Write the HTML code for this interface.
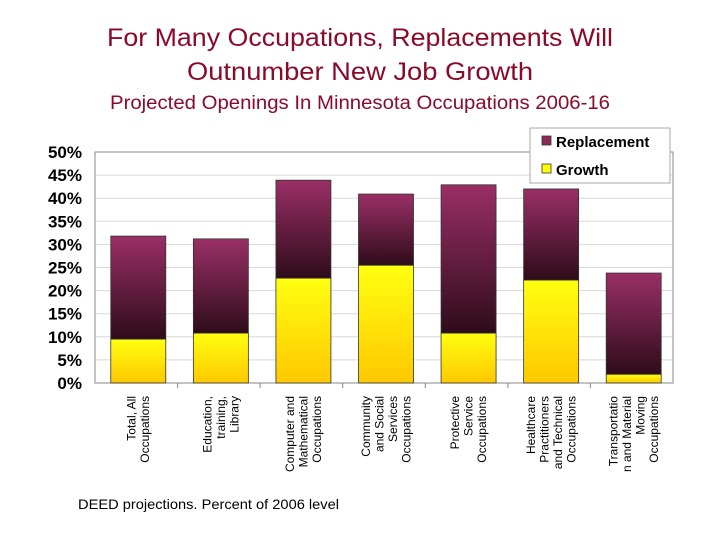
<!DOCTYPE html>
<html><head><meta charset="utf-8"><style>
body{margin:0;background:#fff;width:720px;height:540px;overflow:hidden}
</style></head><body>
<svg id="c" width="720" height="540" xmlns="http://www.w3.org/2000/svg" style="font-family:'Liberation Sans',sans-serif">
<defs>
<linearGradient id="gr" x1="0" y1="0" x2="0" y2="1"><stop offset="0" stop-color="#9a2f66"/><stop offset="1" stop-color="#2e0c1a"/></linearGradient>
<linearGradient id="gy" x1="0" y1="0" x2="0" y2="1"><stop offset="0" stop-color="#ffff10"/><stop offset="1" stop-color="#ffc800"/></linearGradient>
</defs>
<text x="360" y="46" text-anchor="middle" font-size="25" textLength="506" lengthAdjust="spacingAndGlyphs" fill="#8b0a2a">For Many Occupations, Replacements Will</text>
<text x="360" y="80" text-anchor="middle" font-size="25" textLength="346" lengthAdjust="spacingAndGlyphs" fill="#8b0a2a">Outnumber New Job Growth</text>
<text x="360" y="109" text-anchor="middle" font-size="19" textLength="500" lengthAdjust="spacingAndGlyphs" fill="#8b0a2a">Projected Openings In Minnesota Occupations 2006-16</text>
<text x="78" y="509" font-size="14" textLength="261" lengthAdjust="spacingAndGlyphs" fill="#000">DEED projections.  Percent of 2006 level</text>
<g id="plot"></g>
</svg>
<script>
const categories=[["Total, All","Occupations"],["Education,","training,","Library"],["Computer and","Mathematical","Occupations"],["Community","and Social","Services","Occupations"],["Protective","Service","Occupations"],["Healthcare","Practitioners","and Technical","Occupations"],["Transportatio","n and Material","Moving","Occupations"]];
const growth=[9.5,10.8,22.7,25.5,10.8,22.3,1.9];
const replacement=[22.3,20.4,21.2,15.4,32.1,19.7,21.9];
const ticks=[0,5,10,15,20,25,30,35,40,45,50];
const tickLabels=["0%","5%","10%","15%","20%","25%","30%","35%","40%","45%","50%"];
const NS="http://www.w3.org/2000/svg";
const g=document.getElementById('plot');
const X0=95,X1=673,Y0=383,Y1=152;
const y=v=>Y0-(v/50)*(Y0-Y1);
const step=(X1-X0)/categories.length;
const xc=i=>X0+step*(i+0.5)+2;
function mk(t,a){const e=document.createElementNS(NS,t);for(const k in a)e.setAttribute(k,a[k]);g.appendChild(e);return e;}
ticks.forEach((t,i)=>{
 if(t>0){const l=mk('line',{x1:X0,x2:X1,y1:y(t),y2:y(t),stroke:'#d8d8d8','stroke-width':1});
 
 }
 const tx=mk('text',{x:82,y:y(t)+6,'text-anchor':'end','font-size':17,'font-weight':'bold',fill:'#000'});
 tx.textContent=tickLabels[i];
 
 
});
const ax=mk('rect',{x:X0,y:Y1,width:X1-X0,height:Y0-Y1,fill:'none',stroke:'#888','stroke-width':1});


const bw=55;
categories.forEach((c,i)=>{
 const cx=xc(i);
 const gb=mk('rect',{x:cx-bw/2,y:y(growth[i]),width:bw,height:Y0-y(growth[i]),fill:'url(#gy)',stroke:'#333','stroke-width':0.8});
 
 
 const tot=growth[i]+replacement[i];
 const rb=mk('rect',{x:cx-bw/2,y:y(tot),width:bw,height:y(growth[i])-y(tot),fill:'url(#gr)',stroke:'#333','stroke-width':0.8});
 
 
 if(i>0){const tk=mk('line',{x1:X0+step*i,x2:X0+step*i,y1:Y0,y2:Y0+5,stroke:'#888'});
 
 }
 const n=c.length,lh=13.5;
 c.forEach((s,j)=>{
  const lx=cx-(n-1)*lh/2+j*lh+4;
  const t=mk('text',{x:lx,y:396,'text-anchor':'end','font-size':12,fill:'#000',transform:`rotate(-90 ${lx} 396)`});
  t.textContent=s;
  
  
 });
});
const lg=mk('rect',{x:530,y:128,width:140,height:55,fill:'#fff',stroke:'#aaa'});


[["Replacement","#8a2a5a",142],["Growth","#ffff00",170]].forEach(d=>{
 const s=mk('rect',{x:542,y:d[2]-6,width:9,height:9,fill:d[1],stroke:'#333','stroke-width':0.8});
 
 
 const t=mk('text',{x:556,y:d[2]+5,'font-size':15,'font-weight':'bold',fill:'#000'});
 t.textContent=d[0];
 
 
});
</script>
</body></html>
